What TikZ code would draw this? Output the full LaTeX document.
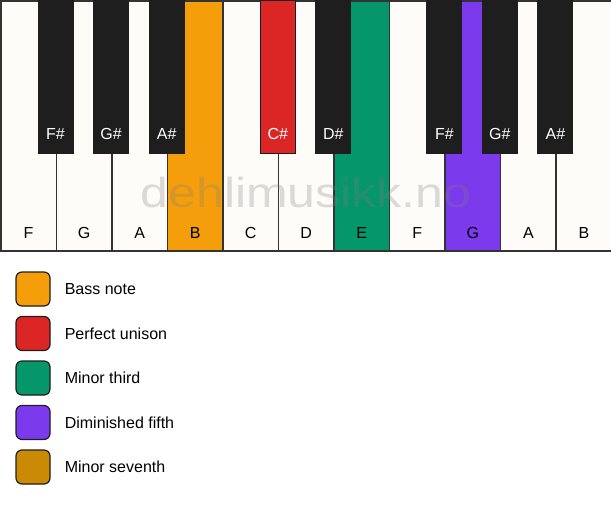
\documentclass[tikz,border=0pt]{standalone}
\usepackage{fontspec}
\setmainfont{Liberation Sans}
\usetikzlibrary{positioning}
\definecolor{keywhite}{HTML}{FDFCF9}
\definecolor{keyblack}{HTML}{1E1E1E}
\definecolor{keyline}{HTML}{333333}
\definecolor{bass}{HTML}{F59E0B}
\definecolor{unison}{HTML}{DC2626}
\definecolor{third}{HTML}{059669}
\definecolor{fifth}{HTML}{7C3AED}
\definecolor{seventh}{HTML}{CA8A04}
\begin{document}
\begin{tikzpicture}[x=1pt,y=-1pt,
  whitekey/.style={draw=keyline,line width=1.5pt,minimum width=55.545pt,minimum height=250pt,inner sep=0pt,anchor=north west},
  blackkey/.style={draw=keyblack,line width=1pt,minimum width=35pt,minimum height=153pt,inner sep=0pt,anchor=north},
  keytext/.style={font=\fontsize{16}{16}\selectfont,inner sep=0pt},
  legbox/.style={draw=keyblack,line width=1.2pt,rounded corners=6pt,minimum size=34pt,inner sep=0pt},
  legtext/.style={font=\fontsize{16}{16}\selectfont,inner sep=0pt,anchor=west}]
\useasboundingbox (0,0) rectangle (611,506);

% white keys
\foreach \n/\c [count=\i from 0] in {F/keywhite,G/keywhite,A/keywhite,B/bass,C/keywhite,D/keywhite,E/third,F/keywhite,G/fifth,A/keywhite,B/keywhite} {
  \node[whitekey,fill=\c] (w\i) at (\i*55.545,0) {};
  \node[keytext,yshift=19pt] (tw\i) at (w\i.south) {\n};
}

% black keys
\foreach \k/\n/\c [count=\i] in {1/F\#/keyblack,2/G\#/keyblack,3/A\#/keyblack,5/C\#/unison,6/D\#/keyblack,8/F\#/keyblack,9/G\#/keyblack,10/A\#/keyblack} {
  \node[blackkey,fill=\c] (b\i) at (\k*55.545,0) {};
  \node[keytext,text=white,yshift=20pt] (tb\i) at (b\i.south) {\n};
}

% watermark
\node[font=\fontsize{42}{42}\selectfont,text=gray,text opacity=0.28,xscale=1.19,transform shape] (mark) at (306,192) {dehlimusikk.no};

% legend
\foreach \c/\t [count=\i from 0] in {bass/Bass note,unison/Perfect unison,third/Minor third,fifth/Diminished fifth,seventh/Minor seventh} {
  \node[legbox,fill=\c] (l\i) at (33,{289+\i*44.5}) {};
  \node[legtext,right=14pt of l\i] (lt\i) {\t};
}
\end{tikzpicture}
\end{document}
